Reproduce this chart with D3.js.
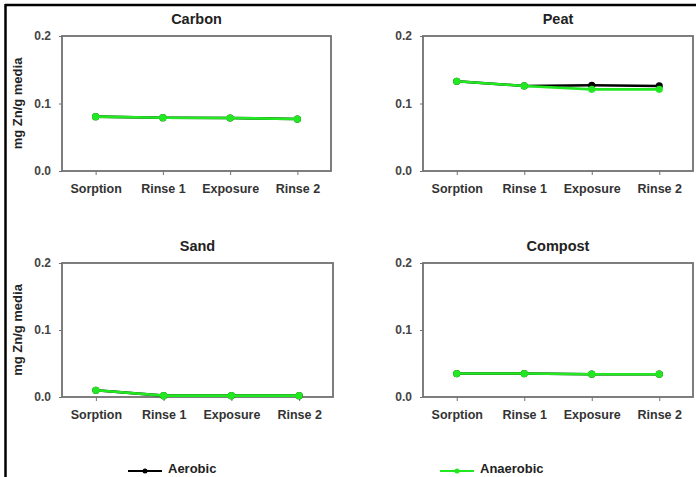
<!DOCTYPE html>
<html><head><meta charset="utf-8">
<script src="https://cdn.jsdelivr.net/npm/d3@7"></script>
<style>body{margin:0;background:#fff}svg{display:block}text{font-family:"Liberation Sans",Arial,sans-serif;font-weight:bold}</style>
</head><body><svg id="c" width="696" height="477"></svg>
<script>
const categories = ["Sorption","Rinse 1","Exposure","Rinse 2"];
const panels = ["Carbon","Peat","Sand","Compost"];
const yTicks = [0.0, 0.1, 0.2];
const carbonAerobic   = [0.0805, 0.0790, 0.0785, 0.0770];
const carbonAnaerobic = [0.0805, 0.0790, 0.0785, 0.0770];
const peatAerobic     = [0.133, 0.126, 0.127, 0.126];
const peatAnaerobic   = [0.133, 0.126, 0.121, 0.121];
const sandAerobic     = [0.010, 0.002, 0.002, 0.002];
const sandAnaerobic   = [0.010, 0.002, 0.002, 0.002];
const compostAerobic  = [0.035, 0.035, 0.034, 0.034];
const compostAnaerobic= [0.035, 0.035, 0.034, 0.034];
const seriesNames = ["Aerobic","Anaerobic"];
const seriesColors = ["#000000","#22e822"];

const data = {
  Carbon:[carbonAerobic,carbonAnaerobic],
  Peat:[peatAerobic,peatAnaerobic],
  Sand:[sandAerobic,sandAnaerobic],
  Compost:[compostAerobic,compostAnaerobic]
};
const boxes = {
  Carbon:{x0:62,x1:331,y0:36,y1:171,ylab:true},
  Peat:{x0:423,x1:693,y0:36,y1:171,ylab:false},
  Sand:{x0:62,x1:333,y0:263,y1:397,ylab:true},
  Compost:{x0:423,x1:693,y0:263,y1:397,ylab:false}
};
const svg = d3.select("#c");
// outer frame
svg.append("line").attr("x1",5).attr("x2",696).attr("y1",5).attr("y2",5).attr("stroke","#000").attr("stroke-width",2.5);
svg.append("line").attr("x1",5.5).attr("x2",5.5).attr("y1",4).attr("y2",477).attr("stroke","#000").attr("stroke-width",2.5);

panels.forEach(p=>{
  const b = boxes[p];
  const x = d3.scalePoint().domain(categories).range([b.x0,b.x1]).padding(0.5);
  const y = d3.scaleLinear().domain([0,0.2]).range([b.y1,b.y0]);
  const g = svg.append("g");
  g.append("rect").attr("x",b.x0).attr("y",b.y0).attr("width",b.x1-b.x0).attr("height",b.y1-b.y0)
    .attr("fill","none").attr("stroke","#707070").attr("stroke-width",1.8);
  const xa = g.append("g").attr("transform",`translate(0,${b.y1})`)
    .call(d3.axisBottom(x).tickSize(4).tickPadding(9));
  xa.select(".domain").remove();
  xa.selectAll("line").attr("stroke","#707070");
  xa.selectAll("text").attr("font-size",12.5).attr("fill","#333");
  const ya = g.append("g").attr("transform",`translate(${b.x0},0)`)
    .call(d3.axisLeft(y).tickValues(yTicks).tickFormat(d3.format(".1f")).tickSize(3).tickPadding(8));
  ya.select(".domain").remove();
  ya.selectAll("line").attr("stroke","#707070");
  ya.selectAll("text").attr("font-size",12).attr("fill","#444");
  g.append("text").attr("x",(b.x0+b.x1)/2).attr("y",b.y0-12).attr("text-anchor","middle")
    .attr("font-size",14.5).attr("fill","#222").text(p);
  if(b.ylab){
    g.append("text").attr("transform",`translate(22,${(b.y0+b.y1)/2}) rotate(-90)`)
      .attr("text-anchor","middle").attr("font-size",13).attr("fill","#222").text("mg Zn/g media");
  }
  const line = d3.line().x((d,i)=>x(categories[i])).y(d=>y(d));
  data[p].forEach((vals,si)=>{
    g.append("path").datum(vals).attr("d",line).attr("fill","none")
      .attr("stroke",seriesColors[si]).attr("stroke-width",2.6);
    g.selectAll(null).data(vals).enter().append("circle")
      .attr("cx",(d,i)=>x(categories[i])).attr("cy",d=>y(d)).attr("r",3.6)
      .attr("fill",seriesColors[si]);
  });
});

// legend
const legendPos = [{x:128,tx:168},{x:440,tx:480}];
seriesNames.forEach((s,i)=>{
  const lp = legendPos[i];
  svg.append("line").attr("x1",lp.x).attr("x2",lp.x+34).attr("y1",471).attr("y2",471)
    .attr("stroke",seriesColors[i]).attr("stroke-width",2);
  svg.append("circle").attr("cx",lp.x+17).attr("cy",471).attr("r",2.5).attr("fill",seriesColors[i]);
  svg.append("text").attr("x",lp.tx).attr("y",473).attr("font-size",13).attr("fill","#222").text(s);
});
</script></body></html>
